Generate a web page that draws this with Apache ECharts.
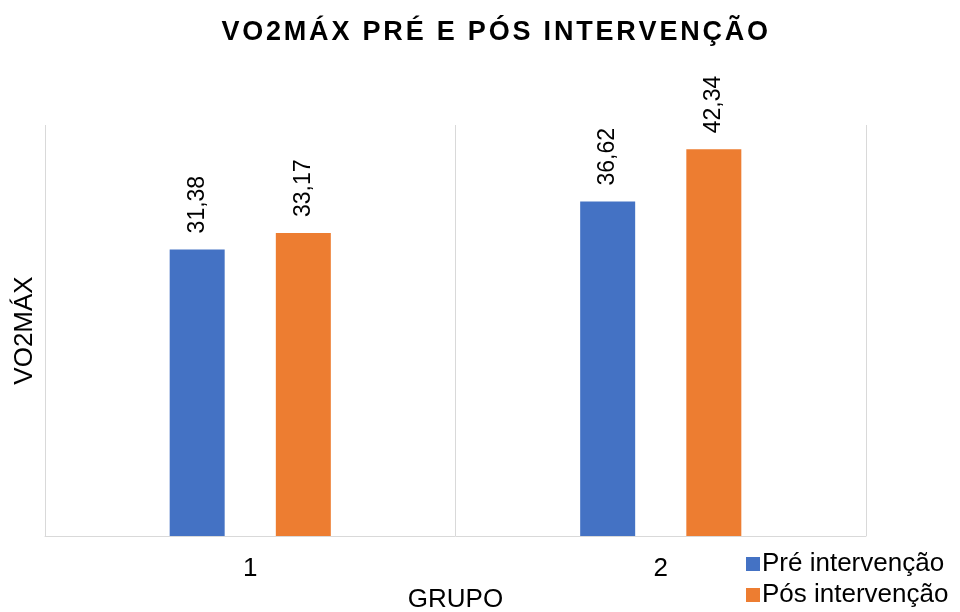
<!DOCTYPE html>
<html>
<head>
<meta charset="utf-8">
<script src="https://cdn.jsdelivr.net/npm/echarts@6/dist/echarts.min.js"></script>
<style>
  html, body { margin: 0; padding: 0; background: #fff; }
  #chart { width: 960px; height: 612px; }
</style>
</head>
<body>
<div id="chart"></div>
<script>
var titleText = 'VO2MÁX PRÉ E PÓS INTERVENÇÃO'
var grupos = ['1', '2']
var preIntervencao = [31.38, 36.62]
var posIntervencao = [33.17, 42.34]

// letras espaçadas no título (rich text, uma letra por bloco)
var titleRich = titleText.split('').map(function (c) {
  return c === ' ' ? '{s| }' : '{c|' + c + '}'
}).join('')

var font = 'Liberation Sans, Arial, sans-serif'

function fmt(p) {
  return p.value.toFixed(2).replace('.', ',')
}

var letra = { fontSize: 27, fontWeight: 'bold', color: '#000', fontFamily: font, padding: [0, 1.4, 0, 1.4] }

var chart = echarts.init(document.getElementById('chart'))
chart.setOption({
  animation: false,
  textStyle: { fontFamily: font },
  title: {
    text: titleRich,
    left: 220,
    top: 19,
    padding: 0,
    textStyle: {
      rich: { c: letra, s: letra }
    }
  },
  grid: {
    left: 45,
    right: 94,
    top: 125,
    bottom: 76,
    outerBoundsMode: 'none'
  },
  legend: {
    orient: 'vertical',
    left: 746,
    top: 551,
    padding: 0,
    height: 60,
    icon: 'rect',
    itemWidth: 14,
    itemHeight: 14,
    itemGap: 5,
    textStyle: { fontSize: 26, color: '#000', fontFamily: font, padding: [0, 0, 0, -3] },
    data: ['Pré intervenção', 'Pós intervenção']
  },
  xAxis: {
    type: 'category',
    data: grupos,
    name: 'GRUPO',
    nameLocation: 'middle',
    nameGap: 50,
    nameTextStyle: { fontSize: 26, color: '#000', fontFamily: font },
    axisLine: { show: true, lineStyle: { color: '#D9D9D9', width: 1 } },
    axisTick: { show: false },
    axisLabel: { fontSize: 26, color: '#000', margin: 20, fontFamily: font },
    splitLine: { show: true, lineStyle: { color: '#D9D9D9', width: 1 } }
  },
  yAxis: {
    type: 'value',
    min: 0,
    max: 45,
    name: 'VO2MÁX',
    nameLocation: 'middle',
    nameGap: 7,
    nameTextStyle: { fontSize: 26, color: '#000', fontFamily: font },
    axisLine: { show: false },
    axisTick: { show: false },
    axisLabel: { show: false },
    splitLine: { show: false }
  },
  series: [
    {
      name: 'Pré intervenção',
      type: 'bar',
      barWidth: 55,
      barGap: '93%',
      itemStyle: { color: '#4472C4' },
      label: {
        show: true,
        position: 'top',
        rotate: 90,
        align: 'left',
        verticalAlign: 'middle',
        distance: 16,
        fontSize: 23,
        color: '#000',
        fontFamily: font,
        formatter: fmt
      },
      data: preIntervencao
    },
    {
      name: 'Pós intervenção',
      type: 'bar',
      barWidth: 55,
      barGap: '93%',
      itemStyle: { color: '#ED7D31' },
      label: {
        show: true,
        position: 'top',
        rotate: 90,
        align: 'left',
        verticalAlign: 'middle',
        distance: 16,
        fontSize: 23,
        color: '#000',
        fontFamily: font,
        formatter: fmt
      },
      data: posIntervencao
    }
  ]
})
</script>
</body>
</html>
